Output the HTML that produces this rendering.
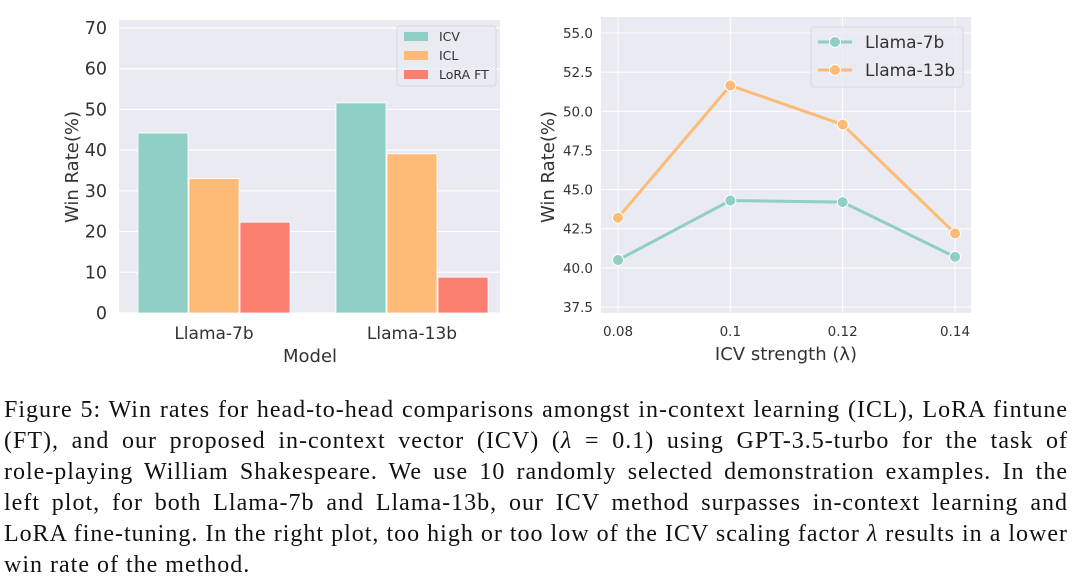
<!DOCTYPE html>
<html><head><meta charset="utf-8">
<style>
body{margin:0;background:#fff;width:1080px;height:588px;overflow:hidden;position:relative}
svg{position:absolute;left:0;top:0}
.cap{position:absolute;left:4px;width:1064px;font-family:"Liberation Serif",serif;font-size:24px;letter-spacing:1px;color:#111;text-align:justify;text-align-last:justify;white-space:nowrap;line-height:31px}
.cap.last{text-align-last:left}
</style></head><body>
<svg id="chart" width="1080" height="390" font-family="DejaVu Sans, Liberation Sans, sans-serif"></svg>
<div class="cap" style="top:395px">Figure 5: Win rates for head-to-head comparisons amongst in-context learning (ICL), LoRA fintune</div>
<div class="cap" style="top:426px">(FT), and our proposed in-context vector (ICV) (<i>λ</i> = 0.1) using GPT-3.5-turbo for the task of</div>
<div class="cap" style="top:457px">role-playing William Shakespeare. We use 10 randomly selected demonstration examples. In the</div>
<div class="cap" style="top:488px">left plot, for both Llama-7b and Llama-13b, our ICV method surpasses in-context learning and</div>
<div class="cap" style="top:519px">LoRA fine-tuning. In the right plot, too high or too low of the ICV scaling factor <i>λ</i> results in a lower</div>
<div class="cap last" style="top:550px">win rate of the method.</div>
<script>
// Left bar chart data
const barModels = ["Llama-7b", "Llama-13b"];
const barSeries = ["ICV", "ICL", "LoRA FT"];
const icvValues = [44.2, 51.6];
const iclValues = [33.0, 39.1];
const loraValues = [22.3, 8.8];
const barTicks = [0, 10, 20, 30, 40, 50, 60, 70];
// Right line chart data
const lambdaLabels = ["0.08", "0.1", "0.12", "0.14"];
const llama7bRates = [40.5, 44.3, 44.2, 40.7];
const llama13bRates = [43.2, 51.65, 49.15, 42.2];
const lineTicks = ["37.5", "40.0", "42.5", "45.0", "47.5", "50.0", "52.5", "55.0"];

const NS = "http://www.w3.org/2000/svg";
const svg = document.getElementById("chart");
function el(tag, attrs, parent, text) {
  const e = document.createElementNS(NS, tag);
  for (const k in attrs) e.setAttribute(k, attrs[k]);
  if (text !== undefined) e.textContent = text;
  (parent || svg).appendChild(e);
  return e;
}
const colors = ["#8fcfc6", "#fdbb77", "#fa7f6f"];
const grid = "#ffffff", bg = "#eaeaf2", tc = "#333";

// ---- Left chart
const L = {x0: 119, x1: 500, y0: 20, y1: 313};
const yL = v => 313 - v * (285 / 70);
let r = el("rect", {x: L.x0, y: L.y0, width: L.x1 - L.x0, height: L.y1 - L.y0, fill: bg});


barTicks.forEach(t => {
  let g = el("line", {x1: L.x0, x2: L.x1, y1: yL(t), y2: yL(t), stroke: grid, "stroke-width": 1.2});
  
  
  let tx = el("text", {x: 107, y: yL(t) + 6, "text-anchor": "end", "font-size": 17.5, fill: tc}, svg, t);
  
  
});
const xL = i => 214 + i * 198;
const allVals = [icvValues, iclValues, loraValues];
barModels.forEach((m, i) => {
  allVals.forEach((vals, s) => {
    const bx = xL(i) - 76 + s * 51;
    let b = el("rect", {x: bx, y: yL(vals[i]), width: 50, height: yL(0) - yL(vals[i]), fill: colors[s], stroke: "#fff", "stroke-width": 0.8});
    
    
  });
  let tx = el("text", {x: xL(i), y: 339, "text-anchor": "middle", "font-size": 17, fill: tc}, svg, m);
  
  
});
let t1 = el("text", {x: 310, y: 362, "text-anchor": "middle", "font-size": 18, fill: tc}, svg, "Model");


let t2 = el("text", {x: 0, y: 0, "text-anchor": "middle", "font-size": 18, fill: tc, transform: "translate(78,167) rotate(-90)"}, svg, "Win Rate(%)");


let lg = el("g", {});


el("rect", {x: 397, y: 26, width: 99, height: 60, rx: 3, fill: bg, stroke: "#d8d8df", "fill-opacity": 0.8}, lg);
barSeries.forEach((s, i) => {
  let p = el("rect", {x: 404, y: 32 + i * 19, width: 24, height: 9, fill: colors[i]}, lg);
  
  
  let tx = el("text", {x: 439, y: 41 + i * 19, "font-size": 12.5, fill: tc}, lg, s);
  
  
});

// ---- Right chart
const R = {x0: 601, x1: 971, y0: 17, y1: 313};
const yR = v => 33 + (55 - v) * (274 / 17.5);
const xR = i => 618 + i * (337 / 3);
let r2 = el("rect", {x: R.x0, y: R.y0, width: R.x1 - R.x0, height: R.y1 - R.y0, fill: bg});


lineTicks.forEach(t => {
  const v = parseFloat(t);
  let g = el("line", {x1: R.x0, x2: R.x1, y1: yR(v), y2: yR(v), stroke: grid, "stroke-width": 1});
  
  
  let tx = el("text", {x: 593, y: yR(v) + 5, "text-anchor": "end", "font-size": 13.5, fill: tc}, svg, t);
  
  
});
lambdaLabels.forEach((l, i) => {
  let g = el("line", {x1: xR(i), x2: xR(i), y1: R.y0, y2: R.y1, stroke: grid, "stroke-width": 1});
  
  
  let tx = el("text", {x: xR(i), y: 336, "text-anchor": "middle", "font-size": 13.5, fill: tc}, svg, l);
  
  
});
[[llama7bRates, colors[0], "llama-7b"], [llama13bRates, colors[1], "llama-13b"]].forEach(([vals, c, n]) => {
  let pl = el("polyline", {points: vals.map((v, i) => xR(i) + "," + yR(v)).join(" "), fill: "none", stroke: c, "stroke-width": 3});
  
  
  vals.forEach((v, i) => {
    let pt = el("circle", {cx: xR(i), cy: yR(v), r: 5.5, fill: c, stroke: "#fff", "stroke-width": 1});
    
    
  });
});
let t3 = el("text", {x: 786, y: 360, "text-anchor": "middle", "font-size": 18, fill: tc}, svg, "ICV strength (λ)");


let t4 = el("text", {x: 0, y: 0, "text-anchor": "middle", "font-size": 18, fill: tc, transform: "translate(554,167) rotate(-90)"}, svg, "Win Rate(%)");


let lg2 = el("g", {});


el("rect", {x: 811, y: 27, width: 152, height: 60, rx: 3, fill: bg, stroke: "#d8d8df", "fill-opacity": 0.8}, lg2);
[["Llama-7b", colors[0]], ["Llama-13b", colors[1]]].forEach(([s, c], i) => {
  const y = 42 + i * 28;
  el("line", {x1: 818, x2: 852, y1: y, y2: y, stroke: c, "stroke-width": 3}, lg2);
  el("circle", {cx: 835, cy: y, r: 5.5, fill: c, stroke: "#fff", "stroke-width": 1}, lg2);
  let tx = el("text", {x: 865, y: y + 6, "font-size": 17, fill: tc}, lg2, s);
  
  
});
</script>
</body></html>
